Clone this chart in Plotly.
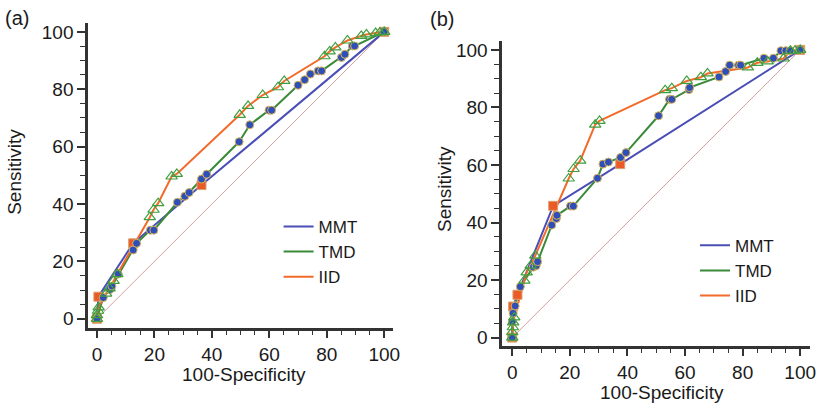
import plotly.graph_objects as go

# ---------------- data ----------------
DIAG = [0, 100]

# panel (a)
MMT_A_X = [0, 0.5, 12.6, 36.4, 100]
MMT_A_Y = [0, 7.7, 26.3, 46.6, 100]

TMD_A_X = [0, 2.2, 4.5, 5.2, 7.4, 12.6, 13.8, 18.6, 19.8, 28.0, 30.6, 32.1, 36.4, 38.2,
           49.5, 53.2, 59.9, 60.8, 70.0, 72.3, 74.3, 77.0, 78.2, 85.1, 86.3, 88.9, 89.7, 100]
TMD_A_Y = [0, 7.4, 10.2, 11.4, 15.6, 24.0, 26.3, 30.9, 30.9, 40.6, 42.7, 44.0, 48.7, 50.4,
           61.7, 67.6, 72.7, 72.7, 81.4, 83.3, 85.3, 86.4, 86.4, 91.1, 92.2, 95.1, 95.1, 100]

IID_A_X = [0, 0, 0.4, 0.6, 3.2, 4.4, 5.8, 7.1, 18.4, 19.7, 21.3, 26.0, 27.8, 49.7, 52.6,
           57.7, 63.0, 65.2, 79.2, 81.0, 83.0, 87.2, 92.0, 93.8, 97.0, 98.5, 100]
IID_A_Y = [0, 1.3, 2.8, 4.0, 8.8, 10.6, 13.2, 15.6, 35.4, 38.0, 40.3, 49.6, 50.5, 71.1, 74.2,
           78.0, 80.7, 82.9, 91.5, 93.2, 94.6, 97.0, 98.6, 99.1, 99.6, 99.8, 100]

# panel (b)
MMT_B_X = [0, 0.3, 1.8, 14.2, 37.5, 100]
MMT_B_Y = [0, 10.8, 14.9, 45.8, 60.3, 100]

TMD_B_X = [0, 0, 0.3, 1.0, 2.8, 7.3, 8.3, 8.8, 13.7, 15.3, 15.5, 20.2, 21.2, 29.6, 31.5, 33.4,
           37.6, 39.5, 50.8, 54.6, 55.4, 61.4, 61.6, 71.8, 74.1, 75.5, 78.6, 79.3, 87.4, 90.7,
           93.3, 95.0, 96.5, 100]
TMD_B_Y = [0, 5.5, 8.5, 11.0, 17.7, 24.5, 25.0, 26.4, 39.1, 41.4, 42.5, 45.7, 45.7, 55.4, 60.3, 61.0,
           62.6, 64.3, 77.1, 82.8, 82.8, 86.2, 86.9, 90.6, 92.5, 94.7, 94.7, 94.7, 97.1, 97.1,
           99.7, 99.7, 99.7, 100]

IID_B_X = [0, 0, 0.2, 0.3, 0.7, 4.2, 5.0, 6.4, 8.0, 19.6, 21.3, 23.6, 28.8, 30.3, 53.1, 55.4,
           60.6, 65.5, 67.8, 81.8, 85.1, 88.7, 94.2, 96.6, 98.2, 100]
IID_B_Y = [0, 1.9, 3.6, 5.3, 7.0, 19.8, 22.7, 25.0, 28.5, 55.3, 58.6, 61.5, 74.0, 75.3, 86.0, 86.7,
           89.2, 90.5, 91.8, 93.9, 95.5, 96.0, 97.0, 99.7, 99.7, 100]

SERIES = ["MMT", "TMD", "IID"]
TICKS = [0, 20, 40, 60, 80, 100]

# ---------------- styles ----------------
LINE_COL = {"MMT": "#4b4fb5", "TMD": "#3a8a3a", "IID": "#f26b2a"}
MARKER = {
    "MMT": dict(symbol="square", size=9, color="#ec5a28", line=dict(color="#d9a070", width=1)),
    "TMD": dict(symbol="circle", size=8, color="#2f4fb8", line=dict(color="#d9b45a", width=1)),
    "IID": dict(symbol="triangle-up-open", size=10, color="#3f9f3f", line=dict(color="#3f9f3f", width=1.2)),
}
DIAG_COL = "#d4a0a0"
AX_COL = "#333333"
FONT = "Liberation Sans, Arial, sans-serif"

fig = go.Figure()

panels = [
    ("x", "y", {"MMT": (MMT_A_X, MMT_A_Y), "TMD": (TMD_A_X, TMD_A_Y), "IID": (IID_A_X, IID_A_Y)}, "legend"),
    ("x2", "y2", {"MMT": (MMT_B_X, MMT_B_Y), "TMD": (TMD_B_X, TMD_B_Y), "IID": (IID_B_X, IID_B_Y)}, "legend2"),
]

for xa, ya, data, leg in panels:
    fig.add_trace(go.Scatter(x=DIAG, y=DIAG, mode="lines", xaxis=xa, yaxis=ya,
                             line=dict(color=DIAG_COL, width=1), showlegend=False, hoverinfo="skip"))
    for s in SERIES:
        xs, ys = data[s]
        fig.add_trace(go.Scatter(x=xs, y=ys, mode="lines", xaxis=xa, yaxis=ya,
                                 line=dict(color=LINE_COL[s], width=2), showlegend=False, name=s))
    for s in SERIES:
        xs, ys = data[s]
        fig.add_trace(go.Scatter(x=xs, y=ys, mode="markers", xaxis=xa, yaxis=ya,
                                 marker=MARKER[s], showlegend=False, name=s))
    for s in SERIES:
        fig.add_trace(go.Scatter(x=[None], y=[None], mode="lines", xaxis=xa, yaxis=ya,
                                 line=dict(color=LINE_COL[s], width=2), name=s,
                                 showlegend=True, legend=leg))

W, H = 818, 405
K = 1.009  # compensation for slight page scaling observed in the capture


def fx(p):
    return p * K / W


def fy(p):
    return 1 - p * K / H


def axis_common(rng, dom, anchor):
    return dict(range=rng, domain=dom, anchor=anchor, tickvals=TICKS, ticks="outside", ticklen=8,
                tickwidth=1.5, tickcolor=AX_COL, showline=True, linecolor=AX_COL, linewidth=2.5,
                showgrid=False, zeroline=False, tickfont=dict(size=19, color="#1a1a1a", family=FONT),
                minor=dict(tickvals=list(range(0, 101, 5)), ticks="outside", ticklen=5, tickwidth=1.2,
                           tickcolor=AX_COL, showgrid=False),
                fixedrange=True)


fig.update_layout(
    width=W, height=H, margin=dict(l=0, r=0, t=0, b=0),
    paper_bgcolor="white", plot_bgcolor="white",
    font=dict(family=FONT, color="#1a1a1a"),
    xaxis=axis_common([-3.1, 103.1], [fx(88), fx(393)], "y"),
    yaxis=axis_common([-3.1, 103.1], [fy(327), fy(22)], "x"),
    xaxis2=axis_common([-3.5, 103.5], [fx(502), min(fx(810), 1.0)], "y2"),
    yaxis2=axis_common([-2.8, 103.1], [fy(345), fy(40)], "x2"),
    legend=dict(x=281 / W, y=1 - 210 / H, xanchor="left", yanchor="top", bgcolor="rgba(0,0,0,0)",
                font=dict(size=17, family=FONT), borderwidth=0),
    legend2=dict(x=701 / W, y=1 - 229 / H, xanchor="left", yanchor="top", bgcolor="rgba(0,0,0,0)",
                 font=dict(size=17, family=FONT), borderwidth=0),
    showlegend=True,
)

ann = [
    dict(text="(a)", x=17, y=17, size=20, angle=0),
    dict(text="(b)", x=442, y=18, size=20, angle=0),
    dict(text="100-Specificity", x=244, y=374, size=19, angle=0),
    dict(text="100-Specificity", x=662, y=392, size=19, angle=0),
    dict(text="Sensitivity", x=15, y=171, size=19, angle=-90),
    dict(text="Sensitivity", x=445, y=188, size=19, angle=-90),
]
for a in ann:
    fig.add_annotation(text=a["text"], x=fx(a["x"]), y=fy(a["y"]), xref="paper", yref="paper",
                       xanchor="center", yanchor="middle", showarrow=False, textangle=a["angle"],
                       font=dict(size=a["size"], family=FONT, color="#1a1a1a"))

fig.write_html("out.html", config={"displayModeBar": False},
               post_script="document.body.style.margin='0px';")
